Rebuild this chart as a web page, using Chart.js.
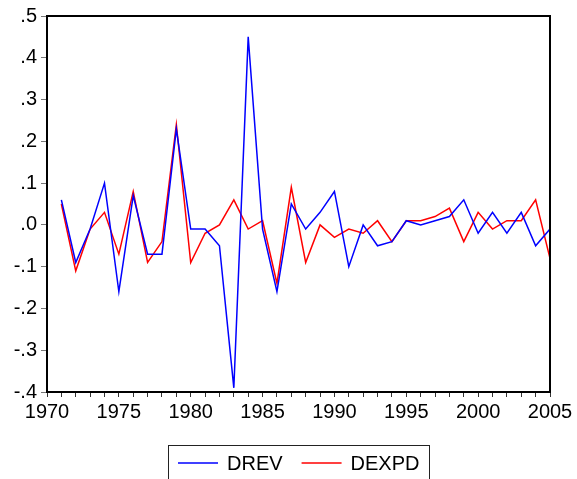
<!DOCTYPE html>
<html>
<head>
<meta charset="utf-8">
<script src="https://cdn.jsdelivr.net/npm/chart.js@4"></script>
<style>
  html, body { margin: 0; padding: 0; background: #fff; }
  canvas { display: block; }
</style>
</head>
<body>
<canvas id="grafico" width="577" height="479"></canvas>
<script>
// Datos
const years = [1971, 1972, 1973, 1974, 1975, 1976, 1977, 1978, 1979, 1980,
  1981, 1982, 1983, 1984, 1985, 1986, 1987, 1988, 1989, 1990,
  1991, 1992, 1993, 1994, 1995, 1996, 1997, 1998, 1999, 2000,
  2001, 2002, 2003, 2004, 2005];
const drev = [0.06, -0.09, -0.01, 0.10, -0.16, 0.07, -0.07, -0.07, 0.23, -0.01,
  -0.01, -0.05, -0.39, 0.45, -0.01, -0.16, 0.05, -0.01, 0.03, 0.08,
  -0.10, 0.00, -0.05, -0.04, 0.01, 0.00, 0.01, 0.02, 0.06, -0.02,
  0.03, -0.02, 0.03, -0.05, -0.01];
const dexpd = [0.05, -0.11, -0.01, 0.03, -0.07, 0.08, -0.09, -0.04, 0.24, -0.09,
  -0.02, 0.00, 0.06, -0.01, 0.01, -0.14, 0.09, -0.09, 0.00, -0.03,
  -0.01, -0.02, 0.01, -0.04, 0.01, 0.01, 0.02, 0.04, -0.04, 0.03,
  -0.01, 0.01, 0.01, 0.06, -0.08];
const xTicks = [1970, 1975, 1980, 1985, 1990, 1995, 2000, 2005];

const FONT = '"Liberation Sans", Arial, sans-serif';

// caja alrededor del area + leyenda con borde
const boxPlugin = {
  id: 'boxPlugin',
  afterDraw(chart) {
    const { ctx, chartArea: a } = chart;
    ctx.save();
    ctx.strokeStyle = '#000';
    ctx.lineWidth = 2;
    ctx.beginPath();
    ctx.moveTo(a.left, a.top);
    ctx.lineTo(a.right, a.top);
    ctx.lineTo(a.right, a.bottom);
    ctx.stroke();

    // leyenda
    ctx.lineWidth = 1;
    ctx.strokeStyle = '#222';
    ctx.strokeRect(168.5, 445.5, 261, 40);
    ctx.font = '20px ' + FONT;
    ctx.textBaseline = 'middle';
    ctx.fillStyle = '#000';
    let x = 178;
    const y = 463;
    chart.data.datasets.forEach(ds => {
      ctx.strokeStyle = ds.borderColor;
      ctx.lineWidth = 1.5;
      ctx.beginPath();
      ctx.moveTo(x, y);
      ctx.lineTo(x + 40, y);
      ctx.stroke();
      ctx.fillText(ds.label, x + 49, y + 1);
      x += 49 + ctx.measureText(ds.label).width + 19;
    });
    ctx.restore();
  }
};

new Chart(document.getElementById('grafico'), {
  type: 'line',
  data: {
    datasets: [
      { label: 'DREV', data: years.map((yr, i) => ({ x: yr, y: drev[i] })),
        borderColor: '#0000FF', borderWidth: 1.5, pointRadius: 0, tension: 0 },
      { label: 'DEXPD', data: years.map((yr, i) => ({ x: yr, y: dexpd[i] })),
        borderColor: '#FF0000', borderWidth: 1.5, pointRadius: 0, tension: 0 }
    ]
  },
  options: {
    responsive: false,
    animation: false,
    layout: { padding: { top: 16, right: 27, left: 0, bottom: 0 } },
    plugins: { legend: { display: false }, tooltip: { enabled: false } },
    scales: {
      x: {
        type: 'linear', min: 1970, max: 2005,
        afterFit(scale) { scale.height = 87; },
        afterBuildTicks(scale) {
          const t = [];
          for (let v = 1970; v <= 2005; v++) t.push({ value: v });
          scale.ticks = t;
        },
        ticks: {
          autoSkip: false, maxRotation: 0, padding: 3, color: '#000',
          font: { family: FONT, size: 20 },
          callback: v => xTicks.includes(v) ? String(v) : ''
        },
        grid: { drawOnChartArea: false, tickLength: 5, color: '#333' },
        border: { color: '#000', width: 2 }
      },
      y: {
        min: -0.4, max: 0.5,
        afterFit(scale) { scale.width = 47; },
        ticks: {
          stepSize: 0.1, padding: 4, color: '#000',
          font: { family: FONT, size: 20 },
          callback: v => v.toFixed(1).replace('0.', '.')
        },
        grid: { drawOnChartArea: false, tickLength: 6, color: '#777' },
        border: { color: '#000', width: 2 }
      }
    }
  },
  plugins: [boxPlugin]
});
</script>
</body>
</html>
